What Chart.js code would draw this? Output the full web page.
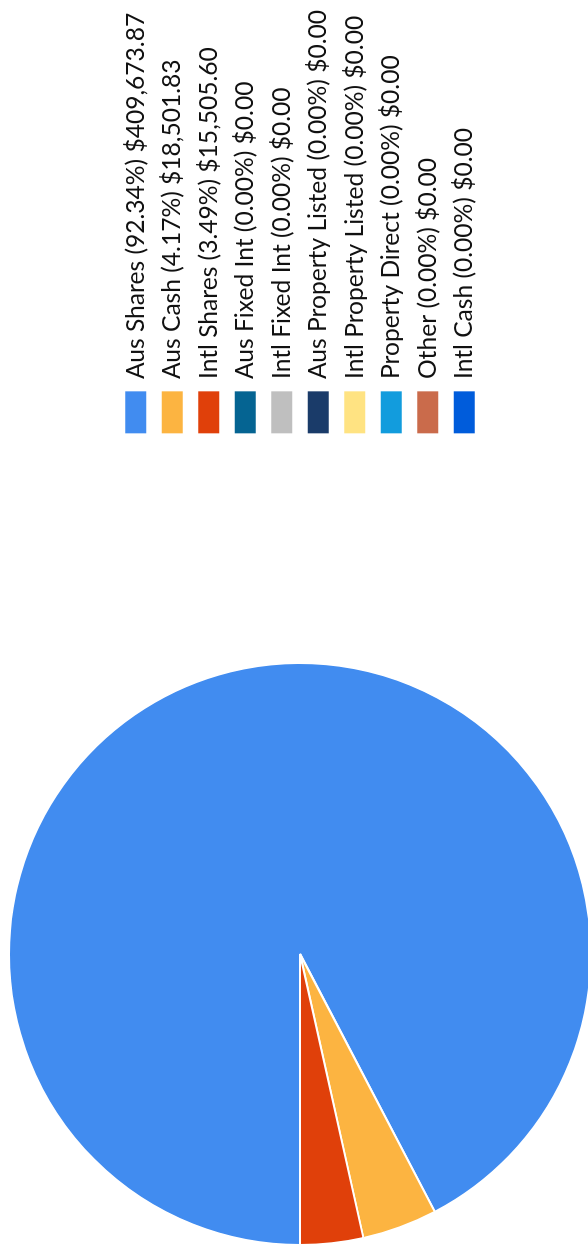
<!DOCTYPE html>
<html>
<head>
<meta charset="utf-8">
<script src="https://cdn.jsdelivr.net/npm/chart.js@4.4.1/dist/chart.umd.min.js"></script>
<style>
  html, body { margin: 0; padding: 0; background: #fff; overflow: hidden; }
  body { width: 588px; height: 1255px; position: relative; }
  /* chart is drawn landscape and turned a quarter turn to the left */
  #wrap {
    position: absolute; left: 0; top: 0;
    width: 1262px; height: 600px;
    transform-origin: 0 0;
    transform: translate(0, 1262px) rotate(-90deg);
  }
</style>
</head>
<body>
<div id="wrap"><canvas id="pieChart"></canvas></div>
<script>
const categories = ["Aus Shares", "Aus Cash", "Intl Shares", "Aus Fixed Int", "Intl Fixed Int",
  "Aus Property Listed", "Intl Property Listed", "Property Direct", "Other", "Intl Cash"];
const amounts = [409673.87, 18501.83, 15505.60, 0, 0, 0, 0, 0, 0, 0];
const colours = ["#418CF0", "#FCB441", "#E0400A", "#056492", "#BFBFBF",
  "#1A3B69", "#FFE382", "#129CDD", "#CA6B4B", "#005CDB"];

const total = amounts.reduce((a, b) => a + b, 0);
const money = (v) => "$" + v.toLocaleString("en-US", { minimumFractionDigits: 2, maximumFractionDigits: 2 });
const pct = (v) => (total ? (v / total) * 100 : 0).toFixed(2) + "%";

// the pie sits in the left 600px, the legend keeps the place the layout gave it
const pieArea = {
  id: "pieArea",
  afterLayout(chart) {
    const area = chart.chartArea;
    area.right = area.left + 600;
    area.width = 600;
  }
};

const ctx = document.getElementById("pieChart").getContext("2d");
const baseLabels = Chart.overrides.pie.plugins.legend.labels.generateLabels;

new Chart(ctx, {
  type: "pie",
  data: {
    labels: categories,
    datasets: [{
      data: amounts,
      backgroundColor: colours,
      borderColor: "#fff",
      borderWidth: 2
    }]
  },
  options: {
    responsive: true,
    maintainAspectRatio: false,
    animation: false,
    rotation: 270,
    layout: { padding: { left: 8, top: 8, bottom: 8, right: 0 } },
    plugins: {
      tooltip: { enabled: false },
      legend: {
        position: "right",
        labels: {
          boxWidth: 42,
          boxHeight: 21,
          padding: 11.9,
          color: "#111",
          font: { family: "Lato", size: 24.6 },
          generateLabels: (chart) => baseLabels(chart).map((item, i) => {
            item.text = categories[i] + " (" + pct(amounts[i]) + ") " + money(amounts[i]);
            item.lineWidth = 0;
            return item;
          })
        }
      }
    }
  },
  plugins: [pieArea]
});
</script>
</body>
</html>
